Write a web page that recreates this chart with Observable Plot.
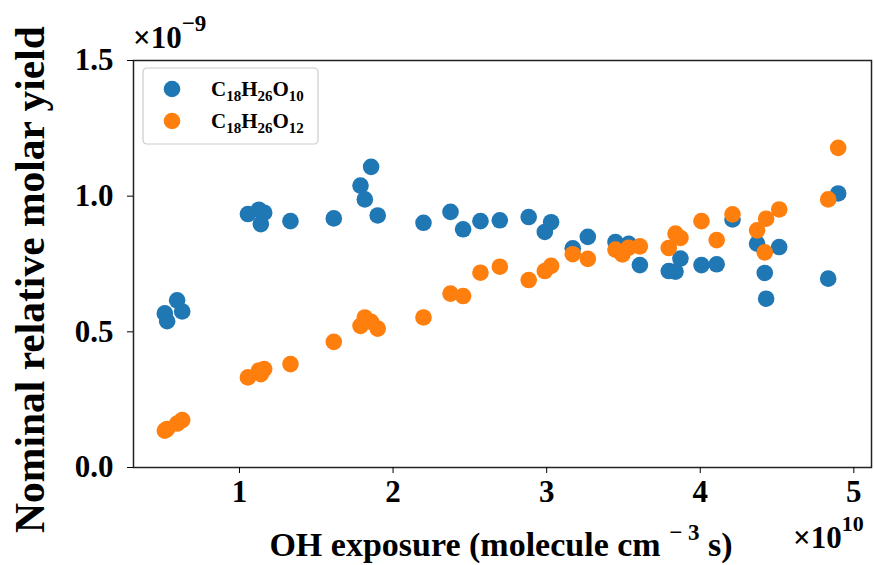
<!DOCTYPE html>
<html>
<head>
<meta charset="utf-8">
<script src="https://cdn.jsdelivr.net/npm/d3@7"></script>
<script src="https://cdn.jsdelivr.net/npm/@observablehq/plot@0.6"></script>
<style>
  html, body { margin: 0; padding: 0; background: #fff; }
  #chart svg { display: block; }
</style>
</head>
<body>
<div id="chart"></div>
<script>
// OH exposure, in units of 1e10 molecule cm^-3 s (shared by both species)
const exposure = [
  0.514, 0.529, 0.594, 0.627, 1.055, 1.126, 1.139, 1.161, 1.332, 1.614,
  1.788, 1.816, 1.857, 1.900, 2.198, 2.374, 2.456, 2.569, 2.695, 2.883,
  2.988, 3.029, 3.170, 3.268, 3.448, 3.493, 3.534, 3.607, 3.795, 3.839,
  3.871, 4.008, 4.107, 4.210, 4.370, 4.420, 4.429, 4.514, 4.833, 4.898
];

// Nominal relative molar yield, in units of 1e-9
const yieldO10 = [
  0.568, 0.539, 0.616, 0.575, 0.934, 0.950, 0.897, 0.939, 0.908, 0.918,
  1.039, 0.988, 1.108, 0.929, 0.902, 0.942, 0.878, 0.908, 0.911, 0.923,
  0.868, 0.904, 0.808, 0.850, 0.831, 0.798, 0.824, 0.746, 0.724, 0.722,
  0.770, 0.746, 0.749, 0.914, 0.825, 0.717, 0.622, 0.8125, 0.696, 1.010
];
const yieldO12 = [
  0.136, 0.142, 0.162, 0.175, 0.332, 0.357, 0.344, 0.363, 0.381, 0.463,
  0.522, 0.553, 0.537, 0.512, 0.553, 0.641, 0.632, 0.718, 0.740, 0.691,
  0.724, 0.743, 0.786, 0.769, 0.803, 0.785, 0.810, 0.815, 0.809, 0.862,
  0.846, 0.908, 0.838, 0.933, 0.874, 0.793, 0.917, 0.951, 0.988, 1.178
];

const seriesNames = ["C18H26O10", "C18H26O12"];
const seriesColors = ["#1f77b4", "#ff7f0e"];
const xTicks = [1, 2, 3, 4, 5];
const yTicks = [0, 0.5, 1.0, 1.5];

(() => {
  const rows = [
    ...exposure.map((x, i) => ({x, y: yieldO10[i], s: seriesNames[0]})),
    ...exposure.map((x, i) => ({x, y: yieldO12[i], s: seriesNames[1]}))
  ];

  const font = "'Liberation Serif', 'Times New Roman', serif";

  const chart = Plot.plot({
    width: 874,
    height: 565,
    marginLeft: 133,
    marginRight: 3,
    marginTop: 60,
    marginBottom: 98,
    style: {fontFamily: font, fontWeight: "bold", background: "#fff", color: "#000"},
    x: {domain: [0.31, 5.115]},
    y: {domain: [0, 1.5]},
    color: {domain: seriesNames, range: seriesColors},
    marks: [
      Plot.dot(rows, {x: "x", y: "y", fill: "s", r: 8.3, stroke: "none"}),
      Plot.frame({stroke: "#222", strokeWidth: 1.5}),
      Plot.axisX(xTicks, {tickSize: 6, tickPadding: 6, fontSize: 31, label: null, tickFormat: d3.format("d")}),
      Plot.axisY(yTicks, {tickSize: 6, tickPadding: 14, fontSize: 31, label: null, tickFormat: d3.format(".1f")})
    ]
  });

  document.getElementById("chart").appendChild(chart);

  // Annotations with sub/superscripts, placed against the plot frame
  const svg = d3.select(chart);
  const sx = chart.scale("x"), sy = chart.scale("y");
  const x0 = sx.apply(sx.domain[0]), x1 = sx.apply(sx.domain[1]);
  const y1 = sy.apply(sy.domain[1]), y0 = sy.apply(sy.domain[0]);

  const g = svg.append("g")
    .attr("font-family", font)
    .attr("font-weight", "bold")
    .attr("text-anchor", "start")
    .attr("fill", "#000");

  // y-axis title
  g.append("text")
    .attr("transform", `translate(34,${(y1 + y0) / 2 + 16}) rotate(-90)`)
    .attr("text-anchor", "middle")
    .attr("dominant-baseline", "middle")
    .attr("font-size", 41.5)
    .text("Nominal relative molar yield");

  // x-axis title with superscript
  const xt = g.append("text")
    .attr("x", (x0 + x1) / 2 - 1)
    .attr("y", 556)
    .attr("text-anchor", "middle")
    .attr("font-size", 34);
  xt.append("tspan").text("OH exposure (molecule cm ");
  xt.append("tspan").attr("dy", -16).attr("font-size", 23).text("− 3");
  xt.append("tspan").attr("dy", 16).text(" s)");

  // scale factor for the y axis
  const ym = g.append("text").attr("x", x0).attr("y", 48).attr("font-size", 31);
  ym.append("tspan").text("×10");
  ym.append("tspan").attr("dy", -17).attr("font-size", 23).text("−9");

  // scale factor for the x axis
  const xm = g.append("text").attr("x", x1 - 78).attr("y", 548).attr("font-size", 31);
  xm.append("tspan").text("×10");
  xm.append("tspan").attr("dy", -17).attr("font-size", 22).text("10");

  // legend
  const lg = svg.append("g")
    .attr("transform", `translate(${x0 + 10},${y1 + 8})`)
    .attr("text-anchor", "start");
  lg.append("rect")
    .attr("width", 175).attr("height", 76).attr("rx", 4)
    .attr("fill", "#fff").attr("fill-opacity", 0.8)
    .attr("stroke", "#ccc").attr("stroke-width", 1.2);
  const subs = [["C", "18", "H", "26", "O", "10"], ["C", "18", "H", "26", "O", "12"]];
  subs.forEach((parts, i) => {
    const cy = 21 + i * 32;
    lg.append("circle").attr("cx", 29).attr("cy", cy).attr("r", 8.3).attr("fill", seriesColors[i]);
    const t = lg.append("text")
      .attr("x", 68).attr("y", cy + 7)
      .attr("font-family", font).attr("font-weight", "bold").attr("font-size", 21);
    parts.forEach((p, k) => {
      if (k % 2 === 0) t.append("tspan").attr("dy", k === 0 ? 0 : -5).attr("font-size", 21).text(p);
      else t.append("tspan").attr("dy", 5).attr("font-size", 15).text(p);
    });
  });
})();
</script>
</body>
</html>
